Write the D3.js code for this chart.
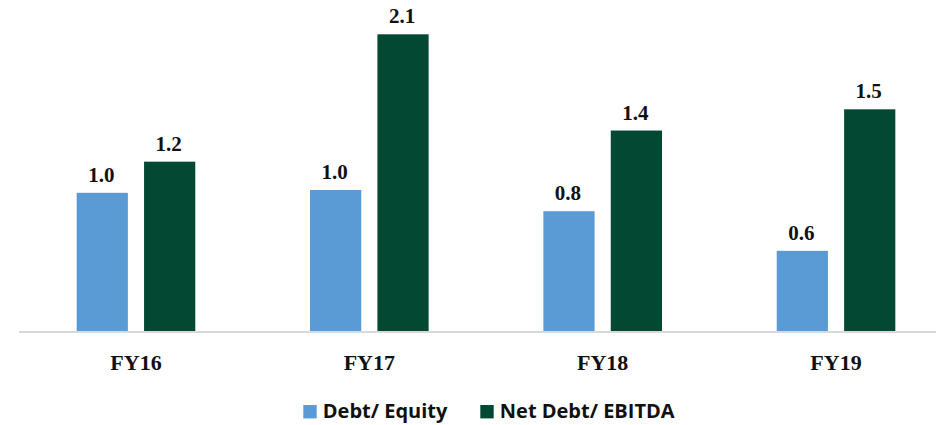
<!DOCTYPE html>
<html>
<head>
<meta charset="utf-8">
<script src="https://cdn.jsdelivr.net/npm/d3@7"></script>
<style>
  body { margin: 0; background: #fff; }
</style>
</head>
<body>
<div id="chart"></div>
<script>
// data
var years = ["FY16", "FY17", "FY18", "FY19"];
var seriesNames = ["Debt/ Equity", "Net Debt/ EBITDA"];
var debtEquity = [0.98, 1.0, 0.85, 0.57];
var netDebtEbitda = [1.2, 2.1, 1.42, 1.57];
var debtEquityLabels = ["1.0", "1.0", "0.8", "0.6"];
var netDebtEbitdaLabels = ["1.2", "2.1", "1.4", "1.5"];

var width = 936, height = 425;
var colors = ["#5B9BD5", "#034832"];

var svg = d3.select("#chart")
    .append("svg")
    .attr("width", width)
    .attr("height", height);

// x: one band per year, then an inner band per series
var x = d3.scaleBand()
    .domain(years)
    .range([19.3, 952.7]);

var xInner = d3.scaleBand()
    .domain(seriesNames)
    .range([x.bandwidth() / 2 - 59.3, x.bandwidth() / 2 + 59.3])
    .paddingInner(0.24);

var y = d3.scaleLinear()
    .domain([0, 2.1])
    .range([331.5, 34.3]);

var rows = years.map(function (yr, i) {
    return [
        { year: yr, name: seriesNames[0], value: debtEquity[i], label: debtEquityLabels[i] },
        { year: yr, name: seriesNames[1], value: netDebtEbitda[i], label: netDebtEbitdaLabels[i] }
    ];
});

var color = d3.scaleOrdinal().domain(seriesNames).range(colors);

var groups = svg.append("g")
    .selectAll("g")
    .data(rows)
    .enter()
    .append("g")
    .attr("transform", function (d) { return "translate(" + x(d[0].year) + ",0)"; });

groups.selectAll("rect")
    .data(function (d) { return d; })
    .enter()
    .append("rect")
    .attr("x", function (d) { return xInner(d.name); })
    .attr("y", function (d) { return y(d.value); })
    .attr("width", xInner.bandwidth())
    .attr("height", function (d) { return y(0) - y(d.value); })
    .attr("fill", function (d) { return color(d.name); });

// value labels
groups.selectAll("text")
    .data(function (d) { return d; })
    .enter()
    .append("text")
    .attr("x", function (d) { return xInner(d.name) + xInner.bandwidth() / 2 - 1; })
    .attr("y", function (d) { return y(d.value) - 11; })
    .attr("text-anchor", "middle")
    .style("font-family", "'Liberation Serif', 'DejaVu Serif', serif")
    .style("font-weight", "bold")
    .style("font-size", "21px")
    .style("fill", "#111")
    .text(function (d) { return d.label; });

// x axis
var xAxis = svg.append("g")
    .attr("transform", "translate(0," + y(0) + ")")
    .call(d3.axisBottom(x).tickSize(0).tickPadding(23));

xAxis.select(".domain").remove();
xAxis.append("line")
    .attr("x1", 19)
    .attr("x2", width)
    .attr("y1", 0.5)
    .attr("y2", 0.5)
    .attr("stroke", "#d9d9d9")
    .attr("stroke-width", 2);

xAxis.selectAll("text")
    .attr("dy", "0.71em")
    .style("font-family", "'Liberation Serif', 'DejaVu Serif', serif")
    .style("font-weight", "bold")
    .style("font-size", "22px")
    .style("fill", "#111");

// legend
var legendX = [303.3, 480.3];
var legend = svg.append("g")
    .selectAll("g")
    .data(seriesNames)
    .enter()
    .append("g")
    .attr("transform", function (d, i) { return "translate(" + legendX[i] + ",405)"; });

legend.append("rect")
    .attr("width", 13.4)
    .attr("height", 13.4)
    .attr("fill", function (d) { return color(d); });

legend.append("text")
    .attr("x", 19.5)
    .attr("y", 13.4)
    .style("font-family", "'Open Sans', sans-serif")
    .style("font-weight", "bold")
    .style("font-size", "20px")
    .style("fill", "#111")
    .text(function (d) { return d; });
</script>
</body>
</html>
